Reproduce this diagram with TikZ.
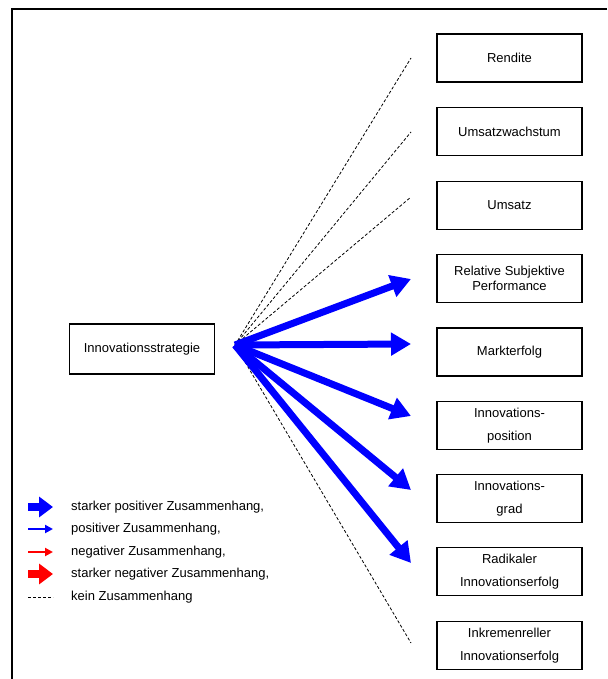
\documentclass[tikz,border=0pt]{standalone}
\usepackage{fontspec}
\setmainfont{Liberation Sans}
\usetikzlibrary{arrows.meta}
\tikzset{
  zielbox/.style={draw,line width=1.2pt,minimum width=145pt,minimum height=48pt,align=center,inner sep=2pt},
  stark/.style={line width=7pt,blue,-{Triangle[length=20pt,width=22pt]}},
  keiner/.style={line width=0.8pt,dash pattern=on 3pt off 2pt},
}
\begin{document}
\begin{tikzpicture}[x=1pt,y=-1pt,every node/.style={font=\fontsize{13}{15.5}\selectfont}]
\useasboundingbox (0,0) rectangle (607,679);
% Rahmen
\draw[line width=1.6pt] (607,9) -- (12,9) -- (12,679);
% Zielgroessen
\node[zielbox] (rendite)   at (509.5,58)    {Rendite};
\node[zielbox] (umsatzw)   at (509.5,131.5) {Umsatzwachstum};
\node[zielbox] (umsatz)    at (509.5,205.5) {Umsatz};
\node[zielbox] (rsp)       at (509.5,278.5) {Relative Subjektive\\Performance};
\node[zielbox] (markt)     at (509.5,352)   {Markterfolg};
\node[zielbox] (ipos)      at (509.5,425.5) {Innovations-\\[7pt]position};
\node[zielbox] (igrad)     at (509.5,498.5) {Innovations-\\[7pt]grad};
\node[zielbox] (radikal)   at (509.5,571.5) {Radikaler\\[7pt]Innovationserfolg};
\node[zielbox] (inkrement) at (509.5,645.5) {Inkremenreller\\[7pt]Innovationserfolg};
\node[zielbox,minimum height=50pt] (strategie) at (142,349) {Innovationsstrategie};
% Zusammenhaenge
\coordinate (src) at (235,345);
\foreach \z/\y in {rendite/58,umsatzw/132,umsatz/197,rsp/279,markt/344,ipos/416,igrad/490,radikal/563,inkrement/643}
  \coordinate (e-\z) at (411,\y);
\foreach \z in {rendite,umsatzw,umsatz,inkrement}
  \draw[keiner] (src) -- (e-\z);
\foreach \z in {rsp,markt,ipos,igrad,radikal}
  \draw[stark] (src) -- (e-\z);
% Legende
\foreach \i/\y in {1/507,2/529,3/552,4/574,5/597} {
  \coordinate (la\i) at (28,\y);
  \coordinate (lb\i) at (53,\y);
}
\draw[blue,line width=8pt,-{Triangle[length=14pt,width=20pt]}] (la1) -- (lb1);
\draw[blue,line width=2pt,-{Triangle[length=8pt,width=8pt]}] (la2) -- (lb2);
\draw[red,line width=2pt,-{Triangle[length=8pt,width=8pt]}] (la3) -- (lb3);
\draw[red,line width=8pt,-{Triangle[length=14pt,width=20pt]}] (la4) -- (lb4);
\draw[keiner] (la5) -- (lb5);
\node[anchor=west,inner xsep=0pt] (t1) at (71,507) {starker positiver Zusammenhang,};
\node[anchor=west,inner xsep=0pt] (t2) at (71,529) {positiver Zusammenhang,};
\node[anchor=west,inner xsep=0pt] (t3) at (71,552) {negativer Zusammenhang,};
\node[anchor=west,inner xsep=0pt] (t4) at (71,574) {starker negativer Zusammenhang,};
\node[anchor=west,inner xsep=0pt] (t5) at (71,597) {kein Zusammenhang};
\end{tikzpicture}
\end{document}
